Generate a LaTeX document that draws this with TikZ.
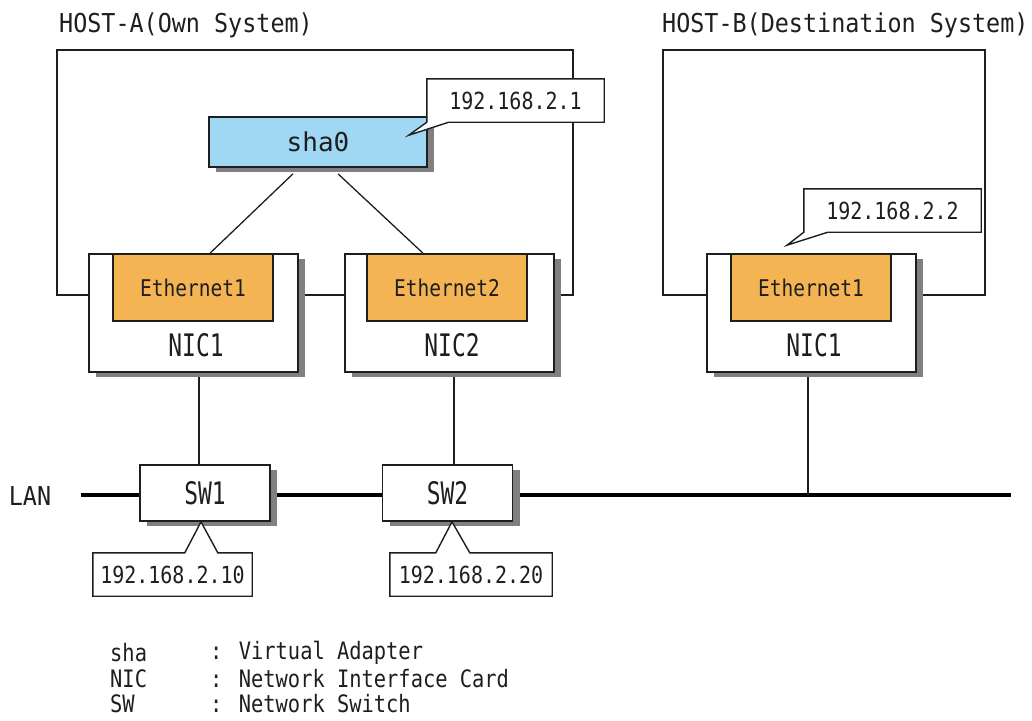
\documentclass[tikz,border=0pt]{standalone}
\usepackage{fontspec}
\setmainfont{DejaVu Sans Mono}
\newfontfamily\fA[FakeStretch=0.85]{DejaVu Sans Mono}
\newfontfamily\fT[FakeStretch=0.9]{DejaVu Sans Mono}
\newfontfamily\fN[FakeStretch=0.74]{DejaVu Sans Mono}
\newfontfamily\fS{DejaVu Sans Mono}
\usetikzlibrary{shadows,calc}
\pgfdeclarelayer{back}
\pgfdeclarelayer{callshape}
\pgfdeclarelayer{front}
\pgfsetlayers{back,main,callshape,front}
\definecolor{shablue}{RGB}{160,216,244}
\definecolor{ethorange}{RGB}{245,180,83}
\definecolor{ink}{RGB}{30,30,30}
\tikzset{
  shadowbox/.style={rectangle, draw=ink, line width=1.6pt, fill=white, inner sep=0pt,
    drop shadow={shadow xshift=7pt, shadow yshift=-5pt, fill=black!50, opacity=1}},
  nicbox/.style={shadowbox, minimum width=209pt, minimum height=118pt},
  ethbox/.style={rectangle, draw=ink, line width=1.6pt, fill=ethorange, inner sep=0pt,
    minimum width=160pt, minimum height=67pt, text=ink, font=\fA\fontsize{23}{23}\selectfont},
  swbox/.style={shadowbox, minimum width=130pt, minimum height=56pt, text=ink,
    font=\fN\fontsize{31}{31}\selectfont},
  bigtext/.style={inner sep=0pt, text=ink, font=\fN\fontsize{31}{31}\selectfont},
  iptext/.style={rectangle, inner sep=0pt, minimum height=43pt, text=ink,
    font=\fA\fontsize{23.5}{23.5}\selectfont},
  callout/.style={draw=ink, line width=1.4pt, fill=white, line join=miter},
  titletext/.style={anchor=west, inner sep=0pt, text=ink, font=\fT\fontsize{26}{26}\selectfont},
  legendtext/.style={anchor=west, inner sep=0pt, text=ink, font=\fA\fontsize{24}{24}\selectfont},
  wire/.style={draw=ink, line width=1.3pt},
  lanwire/.style={draw=black, line width=4pt},
}
\begin{document}
\begin{tikzpicture}[x=1pt,y=-1pt]
\useasboundingbox (0,0) rectangle (1032,720);

% titles
\node[titletext] (titleA) at (59,25) {HOST-A(Own System)};
\node[titletext] (titleB) at (662,25) {HOST-B(Destination System)};

% helper coordinates
\coordinate (yA) at (0,295);
\coordinate (v1) at (199,0);
\coordinate (v2) at (454,0);
\coordinate (v3) at (808,0);
\coordinate (lanL) at (81,495);
\coordinate (lanR) at (1011,495);

% main nodes
\node[shadowbox, fill=shablue, minimum width=218pt, minimum height=50pt, text=ink,
      font=\fS\fontsize{26}{26}\selectfont] (sha) at (318,142) {sha0};

\node[nicbox] (nicA1) at (193.5,313) {};
\node[ethbox] (ethA1) at (193,287.5) {Ethernet1};
\node[bigtext] (nicA1t) at (196,345) {NIC1};

\node[nicbox] (nicA2) at (449.5,313) {};
\node[ethbox] (ethA2) at (447,287.5) {Ethernet2};
\node[bigtext] (nicA2t) at (452,345) {NIC2};

\node[nicbox] (nicB) at (811.5,313) {};
\node[ethbox] (ethB) at (811,287.5) {Ethernet1};
\node[bigtext] (nicBt) at (814,345) {NIC1};

\node[swbox] (swA) at (205,493) {SW1};
\node[swbox] (swB) at (447.5,493) {SW2};

\node[inner sep=0pt, text=ink, font=\fT\fontsize{26}{26}\selectfont] (lan) at (30,496) {LAN};

% connectors sha0 -> Ethernet
\draw[wire] ($(sha.south)+(-25,6)$) -- ($(ethA1.north)+(17,0)$);
\draw[wire] ($(sha.south)+(20,6)$) -- ($(ethA2.north)+(-24,0)$);

\begin{pgfonlayer}{back}
  % host A enclosure
  \draw[wire] (nicA1.west |- yA) -- (57,295) -- (57,50) -- (573,50) -- (573,295) -- (nicA2.east |- yA);
  \draw[wire] (nicA1.east |- yA) -- (nicA2.west |- yA);
  % host B enclosure
  \draw[wire] (nicB.west |- yA) -- (663,295) -- (663,50) -- (985,50) -- (985,295) -- (nicB.east |- yA);
  % LAN
  \draw[lanwire] (lanL) -- (lanR);
  % drops
  \draw[wire] (nicA1.south -| v1) -- (swA.north -| v1);
  \draw[wire] (nicA2.south -| v2) -- (swB.north -| v2);
  \draw[wire] (nicB.south -| v3) -- (lanR -| v3);
\end{pgfonlayer}

% callouts
\begin{pgfonlayer}{front}
  \node[iptext, minimum width=177pt] (ip1) at (515.5,100.5) {192.168.2.1};
  \node[iptext, minimum width=177pt] (ip2) at (892.5,210.5) {192.168.2.2};
  \node[iptext, minimum width=159pt] (ip10) at (172.5,574.5) {192.168.2.10};
  \node[iptext, minimum width=162pt] (ip20) at (471,574.5) {192.168.2.20};
\end{pgfonlayer}
\begin{pgfonlayer}{callshape}
  \filldraw[callout] (ip1.south west) -- ([xshift=-19pt,yshift=-19pt]sha.north east)
     -- ([xshift=22pt]ip1.south west) -- (ip1.south east) -- (ip1.north east) -- (ip1.north west) -- cycle;
  \filldraw[callout] (ip2.south west) -- ([xshift=-24pt,yshift=8pt]ethB.north)
     -- ([xshift=24pt]ip2.south west) -- (ip2.south east) -- (ip2.north east) -- (ip2.north west) -- cycle;
  \filldraw[callout] (ip10.north west) -- ([xshift=92pt]ip10.north west) -- ([xshift=-4pt]swA.south)
     -- ([xshift=125pt]ip10.north west) -- (ip10.north east) -- (ip10.south east) -- (ip10.south west) -- cycle;
  \filldraw[callout] (ip20.north west) -- ([xshift=46pt]ip20.north west) -- ([xshift=4.5pt]swB.south)
     -- ([xshift=80pt]ip20.north west) -- (ip20.north east) -- (ip20.south east) -- (ip20.south west) -- cycle;
\end{pgfonlayer}

% legend
\node[legendtext] (lg1a) at (110,653) {sha};
\node[legendtext] (lg1b) at (210,653) {: Virtual Adapter};
\node[legendtext] (lg2a) at (110,679) {NIC};
\node[legendtext] (lg2b) at (210,679) {: Network Interface Card};
\node[legendtext] (lg3a) at (110,704) {SW};
\node[legendtext] (lg3b) at (210,704) {: Network Switch};
\end{tikzpicture}
\end{document}
